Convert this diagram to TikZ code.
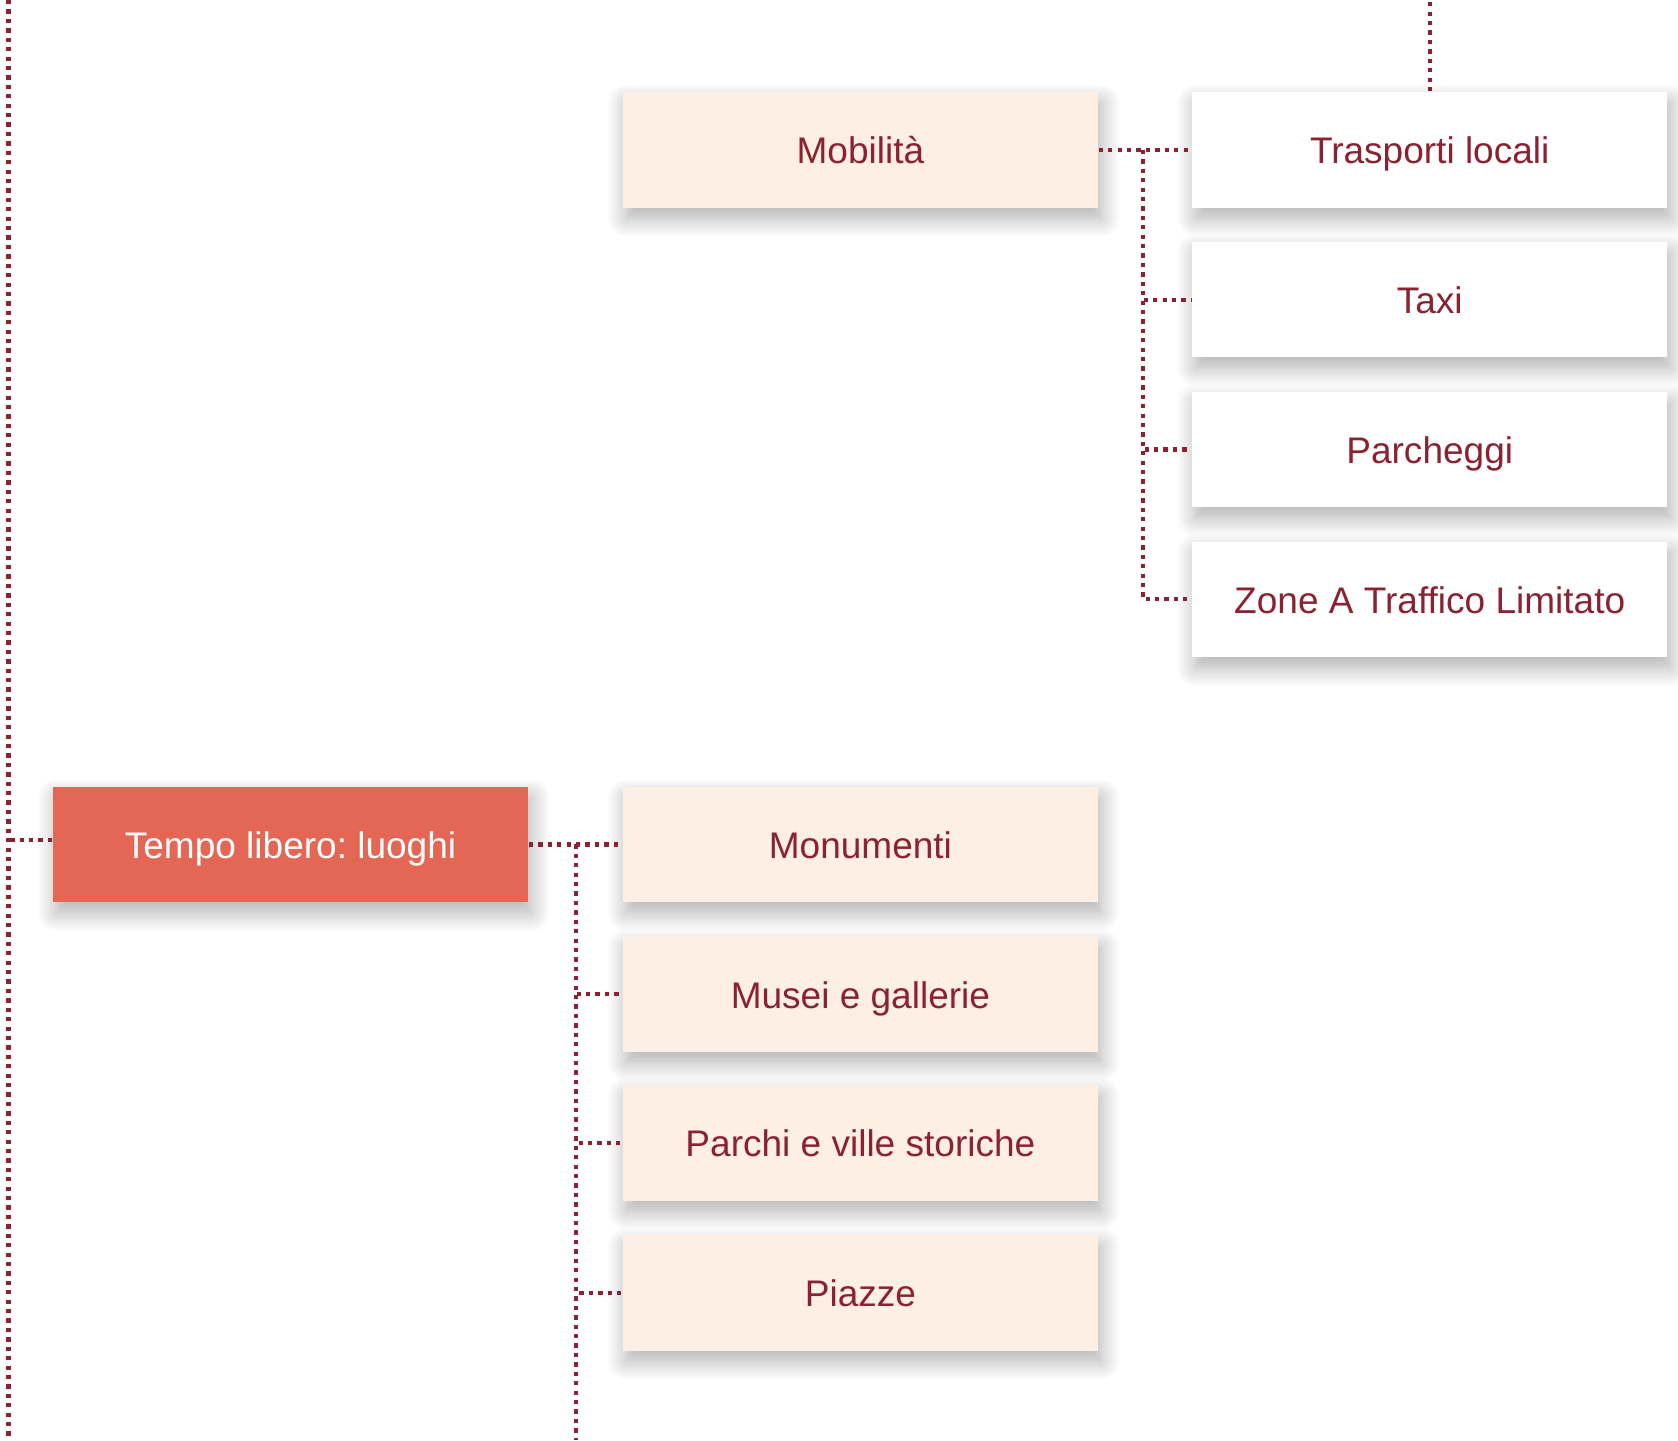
\documentclass[tikz,border=0pt]{standalone}
\usepackage{fontspec}
\setmainfont{Liberation Sans}
\usetikzlibrary{shadows.blur}
\definecolor{vino}{HTML}{8B2232}
\definecolor{pesca}{HTML}{FDEFE3}
\definecolor{corallo}{HTML}{E36754}
\tikzset{every picture/.style={line width=0.75pt}}
\tikzset{
	voce/.style={rectangle,inner sep=0pt,minimum width=222pt,minimum height=54pt,
		text=vino,font=\fontsize{17.3}{20}\selectfont,text height=13.5pt,text depth=0.5pt,
		blur shadow={shadow blur radius=9pt,shadow xshift=1.5pt,shadow yshift=-5pt,shadow opacity=32,shadow blur steps=14}},
	radice/.style={voce,fill=corallo,text=white},
	figlio/.style={voce,fill=pesca},
	foglia/.style={voce,fill=white},
	linea/.style={vino,line width=2pt,dash pattern=on 2pt off 2.4pt}
}
\begin{document}
\frenchspacing
\begin{tikzpicture}[x=0.5pt,y=-0.5pt]
	\useasboundingbox (0,0) rectangle (1568,1346);
	\coordinate (alto) at (8,0); \coordinate (basso) at (8,1346); %linea sinistra
	\draw[linea] (alto)--(basso);
	% nodi
	\node[radice] (tempo) at (271.5,789) {Tempo libero: luoghi};
	\node[figlio] (mobilita) at (804,140) {Mobilità};
	\node[figlio] (monumenti) at (804,789) {Monumenti};
	\node[figlio] (musei) at (804,929) {Musei e gallerie};
	\node[figlio] (parchi) at (804,1068) {Parchi e ville storiche};
	\node[figlio] (piazze) at (804,1208) {Piazze};
	\node[foglia] (trasporti) at (1336,140) {Trasporti locali};
	\node[foglia] (taxi) at (1336,280) {Taxi};
	\node[foglia] (parcheggi) at (1336,420) {Parcheggi};
	\node[foglia] (ztl) at (1336,560) {Zone A Traffico Limitato};
	% collegamenti
	\draw[linea] ([yshift=2pt]tempo.west)--([yshift=2pt]tempo.west -| alto);
	\coordinate (j2) at (538,789); \coordinate (j2b) at (538,1346);
	\draw[linea] (tempo.east)--(monumenti.west);
	\draw[linea] (j2)--(j2b);
	\draw[linea] (j2) |- (musei.west);
	\draw[linea] (j2) |- (parchi.west);
	\draw[linea] (j2) |- (piazze.west);
	\coordinate (j1) at (1068,140);
	\draw[linea] (mobilita.east)--(trasporti.west);
	\draw[linea] (j1) |- (taxi.west);
	\draw[linea] (j1) |- (parcheggi.west);
	\draw[linea] (j1) |- (ztl.west);
	\draw[linea] (trasporti.north)--(trasporti.north |- alto); %verso l'alto
\end{tikzpicture}
\end{document}
